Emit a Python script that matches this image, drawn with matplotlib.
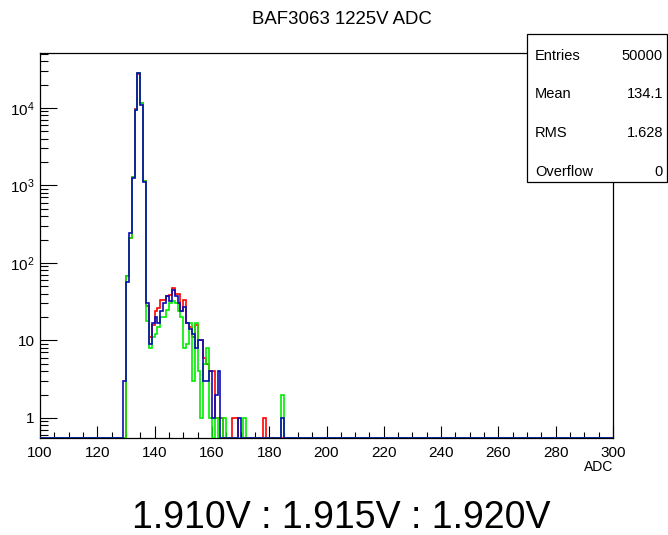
import matplotlib
matplotlib.use("Agg")
import matplotlib.pyplot as plt
import numpy as np
from matplotlib.patches import Rectangle
from matplotlib.ticker import FixedLocator, FuncFormatter, LogLocator, NullFormatter

plt.rcParams["font.family"] = ["Liberation Sans", "DejaVu Sans"]
plt.rcParams["mathtext.fontset"] = "custom"
plt.rcParams["mathtext.rm"] = "Liberation Sans"
plt.rcParams["mathtext.it"] = "Liberation Sans"

# ADC bins (left edges, width 1) that hold counts; everything else is empty
adc_bins = list(range(129, 187))

counts_red = [0, 68, 210, 1300, 9700, 27500, 11500, 1150, 28, 11,
              16, 24, 26, 33, 33, 37, 38, 48, 40, 40,
              24, 33, 17, 15, 11, 16, 10, 10, 6, 5,
              4, 4, 1, 1, 1, 0, 0, 0, 1, 1,
              0, 0, 0, 0, 0, 0, 0, 0, 0, 1,
              0, 0, 0, 0, 0, 0, 0, 0]
counts_green = [0, 68, 210, 1300, 9400, 28500, 11500, 1150, 18, 8,
                11, 12, 15, 20, 20, 25, 30, 32, 30, 24,
                20, 8, 9, 17, 3, 17, 4, 1, 5, 8,
                1, 0, 1, 0, 0, 1, 0, 0, 0, 0,
                0, 0, 1, 0, 0, 0, 0, 0, 0, 0,
                0, 0, 0, 0, 0, 2, 0, 0]
counts_blue = [3, 57, 240, 1250, 9400, 28000, 11000, 1100, 30, 9,
               17, 20, 17, 24, 30, 37, 32, 45, 37, 30,
               24, 27, 17, 14, 12, 8, 10, 10, 3, 3,
               4, 1, 2, 4, 0, 0, 0, 0, 0, 0,
               1, 0, 0, 0, 0, 0, 0, 0, 0, 0,
               0, 0, 0, 0, 0, 1, 0, 0]

stats_names = ["Entries", "Mean", "RMS", "Overflow"]
stats_values = ["50000", "134.1", "1.628", "0"]

title = "BAF3063 1225V ADC"
footer = "1.910V : 1.915V : 1.920V"

X_MIN, X_MAX = 100, 300
Y_MIN, Y_MAX = 0.55, 51000

W, H = 668, 535
fig = plt.figure(figsize=(W / 100, H / 100), dpi=100)
fig.patch.set_facecolor("white")

# frame in pixels: x 40..613, y 53..438
ax = fig.add_axes([40 / W, (H - 438) / H, 573 / W, 385 / H])

edges = np.arange(X_MIN, X_MAX + 1)


def full_hist(counts):
    vals = np.zeros(len(edges) - 1)
    for b, c in zip(adc_bins, counts):
        vals[b - X_MIN] = c
    # ROOT draws empty bins along the bottom of the log frame
    vals[vals <= 0] = Y_MIN
    return vals


for counts, col in [(counts_red, "#ff0000"),
                    (counts_green, "#00ee00"),
                    (counts_blue, "#0c0cb0")]:
    ax.stairs(full_hist(counts), edges, color=col, linewidth=1.2,
              baseline=None, zorder=3)

ax.set_yscale("log")
ax.set_xlim(X_MIN, X_MAX)
ax.set_ylim(Y_MIN, Y_MAX)

ax.xaxis.set_major_locator(FixedLocator(np.arange(100, 301, 20)))
ax.xaxis.set_minor_locator(FixedLocator(np.arange(100, 301, 5)))
ax.yaxis.set_major_locator(LogLocator(base=10, numticks=10))
ax.yaxis.set_minor_locator(LogLocator(base=10, subs=np.arange(2, 10), numticks=20))
ax.yaxis.set_minor_formatter(NullFormatter())


def ylab(v, pos):
    if v < 1.5:
        return "1"
    if v < 15:
        return "10"
    return r"$10^{%d}$" % round(np.log10(v))


ax.yaxis.set_major_formatter(FuncFormatter(ylab))

ax.tick_params(axis="both", which="both", direction="in", top=False, right=False,
               width=0.8, labelsize=11, colors="black")
ax.tick_params(axis="x", which="major", length=8.3, pad=6)
ax.tick_params(axis="x", which="minor", length=4.2)
ax.tick_params(axis="y", which="major", length=12, pad=4)
ax.tick_params(axis="y", which="minor", length=6)
for sp in ax.spines.values():
    sp.set_linewidth(0.9)
    sp.set_color("black")

fig.text(613 / W, 1 - 467 / H, "ADC", ha="right", va="center", fontsize=10)
fig.text(342 / W, 1 - 20 / H, title, ha="center", va="center", fontsize=13.4)

# stats box
fig.patches.append(Rectangle((527 / W, 1 - 182 / H), 140 / W, 148 / H,
                             transform=fig.transFigure, facecolor="white",
                             edgecolor="black", linewidth=0.9, zorder=5))
for i, (name, val) in enumerate(zip(stats_names, stats_values)):
    ypix = 56 + i * 38.5
    fig.text(535 / W, 1 - ypix / H, name, ha="left", va="center",
             fontsize=10.5, zorder=6)
    fig.text(663 / W, 1 - ypix / H, val, ha="right", va="center",
             fontsize=10.5, zorder=6)

fig.text(341 / W, 1 - 518 / H, footer, ha="center", va="center", fontsize=27)

fig.savefig("out.png", dpi=100, facecolor="white")
